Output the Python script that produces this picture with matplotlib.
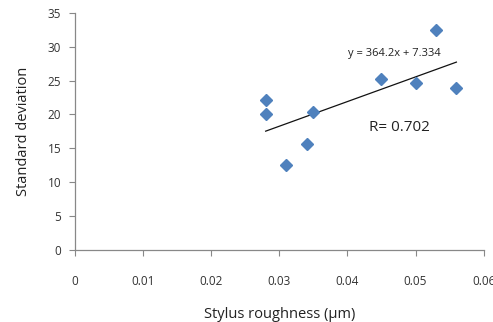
import matplotlib
matplotlib.use("Agg")
import matplotlib.pyplot as plt
import numpy as np

roughness = [0.028, 0.028, 0.031, 0.034, 0.035, 0.045, 0.050, 0.053, 0.056]
std_dev = [22.2, 20.0, 12.6, 15.6, 20.3, 25.3, 24.7, 32.4, 23.9]
slope, intercept = 364.2, 7.334
x_ticks = [0, 0.01, 0.02, 0.03, 0.04, 0.05, 0.06]
x_tick_labels = ["0", "0.01", "0.02", "0.03", "0.04", "0.05", "0.06"]
y_ticks = [0, 5, 10, 15, 20, 25, 30, 35]

plt.rcParams['font.family'] = ['Open Sans', 'DejaVu Sans']

fig = plt.figure(figsize=(4.93, 3.22), dpi=100)
ax = fig.add_axes([0.152, 0.224, 0.829, 0.736])

ax.plot(roughness, std_dev, linestyle='none', marker='D', markersize=6.3,
        color='#4F81BD', markeredgecolor='#4F81BD', zorder=3)

xl = np.array([min(roughness), max(roughness)])
ax.plot(xl, slope * xl + intercept, color='#111111', linewidth=0.9, zorder=2)

ax.text(0.0401, 29.0, "y = 364.2x + 7.334", fontsize=8, color='#222222',
        ha='left', va='center')
ax.text(0.0432, 18.0, "R= 0.702", fontsize=11, color='#222222',
        ha='left', va='center')

ax.set_xlim(0, 0.06)
ax.set_ylim(0, 35)
ax.set_xticks(x_ticks)
ax.set_xticklabels(x_tick_labels)
ax.set_yticks(y_ticks)

for s in ['top', 'right']:
    ax.spines[s].set_visible(False)
for s in ['left', 'bottom']:
    ax.spines[s].set_color('#888888')
    ax.spines[s].set_linewidth(0.9)

ax.tick_params(axis='both', colors='#888888', length=4, width=0.8,
               labelsize=8.5, labelcolor='#333333')
ax.tick_params(axis='x', pad=14)
ax.tick_params(axis='y', pad=6)

ax.set_xlabel("Stylus roughness (µm)", fontsize=10.5, color='#222222', labelpad=14)
ax.set_ylabel("Standard deviation", fontsize=10.5, color='#222222', labelpad=12)

fig.savefig("out.png", dpi=100)
